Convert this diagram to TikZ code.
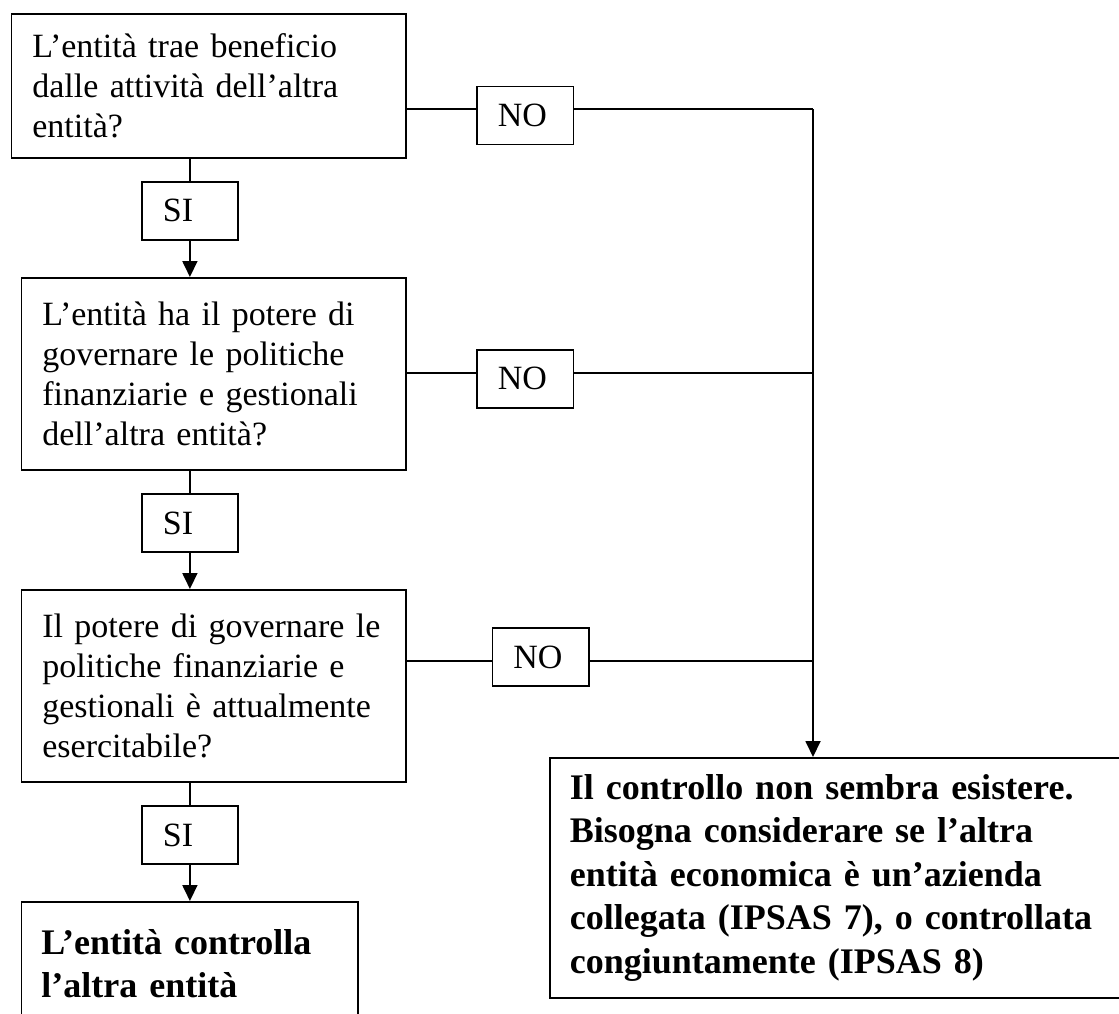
\documentclass[tikz,border=0pt]{standalone}
\usepackage{fontspec}
\setmainfont{Liberation Serif}
\usetikzlibrary{arrows.meta}
\begin{document}
\begin{tikzpicture}[x=1pt,y=-1pt,
  lw/.style={line width=1.8pt},
  qbox/.style={draw, lw, anchor=north west, align=left, inner xsep=21pt, inner ysep=0pt,
    font=\fontsize{34}{40}\selectfont},
  lbl/.style={qbox},
  endbox/.style={draw, lw, anchor=north west, align=left, inner xsep=20pt, inner ysep=0pt,
    font=\fontsize{36}{43.5}\selectfont\bfseries},
  conn/.style={lw},
  arr/.style={lw, -{Triangle[length=16pt,width=15pt]}}
]
\useasboundingbox (0,0) rectangle (1119,1013);

% question boxes
\node[qbox, text width=352.5pt, minimum height=144pt] (b1) at (10.5,13)
  {L’entità trae beneficio\\dalle attività dell’altra\\entità?};
\node[qbox, text width=342.5pt, minimum height=192pt] (b2) at (20.5,277)
  {L’entità ha il potere di\\governare le politiche\\finanziarie e gestionali\\dell’altra entità?};
\node[qbox, text width=342.5pt, minimum height=192pt] (b3) at (20.5,589)
  {Il potere di governare le\\politiche finanziarie e\\gestionali è attualmente\\esercitabile?};

% SI labels
\node[lbl, text width=54pt, minimum height=58pt] (s1) at (141,181) {SI};
\node[lbl, text width=54pt, minimum height=58pt] (s2) at (141,493) {SI};
\node[lbl, text width=54pt, minimum height=58pt] (s3) at (141,805) {SI};

% NO labels
\node[lbl, text width=54.5pt, minimum height=58pt] (n1) at (476,85.5) {NO};
\node[lbl, text width=54.5pt, minimum height=58pt] (n2) at (476,349) {NO};
\node[lbl, text width=54.5pt, minimum height=58pt] (n3) at (491.5,627) {NO};

% result boxes
\node[endbox, text width=296.5pt, minimum height=124pt] (yes) at (20.5,901)
  {L’entità controlla\\l’altra entità};
\node[endbox, text width=561pt, minimum height=240pt] (no) at (549,757)
  {Il controllo non sembra esistere.\\Bisogna considerare se l’altra\\entità economica è un’azienda\\collegata (IPSAS 7), o controllata\\congiuntamente (IPSAS 8)};

% junction coordinates on the NO line
\coordinate (j1) at (813,109);
\coordinate (j2) at (813,373);
\coordinate (j3) at (813,661);

% NO branches
\draw[conn] (b1.east |- j1) -- (n1.west |- j1);
\draw[conn] (n1.east |- j1) -- (j1);
\draw[conn] (b2.east |- j2) -- (n2.west |- j2);
\draw[conn] (n2.east |- j2) -- (j2);
\draw[conn] (b3.east |- j3) -- (n3.west |- j3);
\draw[conn] (n3.east |- j3) -- (j3);
\draw[arr] (j1) -- (no.north -| j1);

% SI branches
\draw[conn] (b1.south -| s1) -- (s1.north);
\draw[arr] (s1.south) -- (b2.north -| s1);
\draw[conn] (b2.south -| s2) -- (s2.north);
\draw[arr] (s2.south) -- (b3.north -| s2);
\draw[conn] (b3.south -| s3) -- (s3.north);
\draw[arr] (s3.south) -- (yes.north -| s3);
\end{tikzpicture}
\end{document}
